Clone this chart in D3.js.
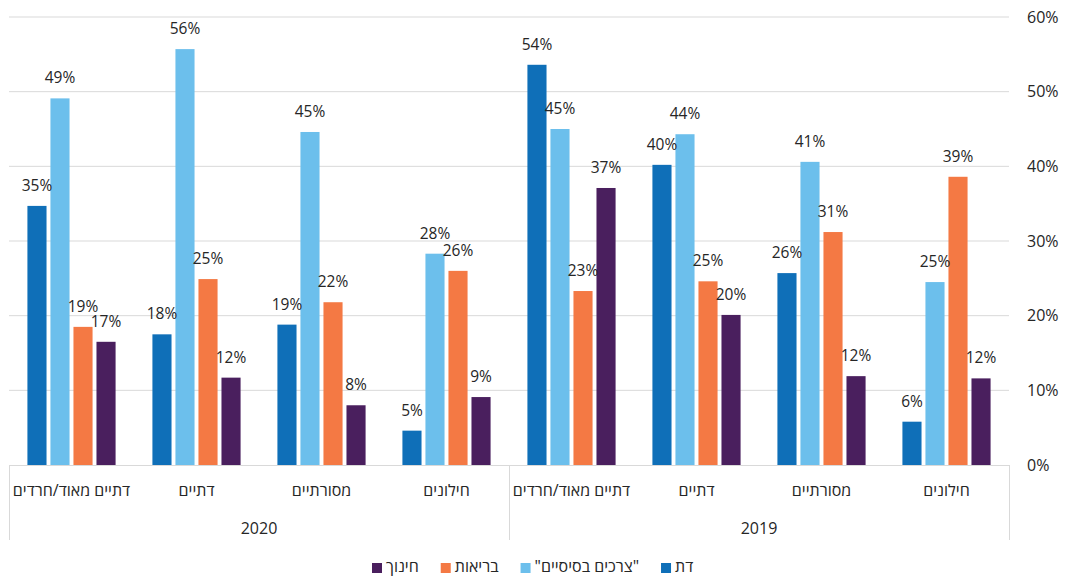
<!DOCTYPE html>
<html>
<head>
<meta charset="utf-8">
<script src="https://cdn.jsdelivr.net/npm/d3@7"></script>
<style>
  body { margin: 0; background: #fff; }
  text { font-family: "Open Sans", "Noto Sans", sans-serif; fill: #262626; }
</style>
</head>
<body>
<div id="chart"></div>
<script>
// data
const years = ["2020", "2019"];
const groups = ["דתיים מאוד/חרדים", "דתיים", "מסורתיים", "חילונים"];
const series = ["דת", "\"צרכים בסיסיים\"", "בריאות", "חינוך"];
const colors = ["#0f6fb8", "#6cbfec", "#f47944", "#4a1f5e"];
const tickValues = [0, 10, 20, 30, 40, 50, 60];

// values per series, in order: 2020 groups then 2019 groups
const religion = [34.7, 17.5, 18.8, 4.6, 53.6, 40.2, 25.7, 5.8];
const basicNeeds = [49.1, 55.7, 44.6, 28.3, 45.0, 44.3, 40.6, 24.5];
const health = [18.5, 24.9, 21.8, 26.0, 23.3, 24.6, 31.2, 38.6];
const education = [16.5, 11.7, 8.0, 9.1, 37.1, 20.1, 11.9, 11.6];
const values = [religion, basicNeeds, health, education];

const W = 1065, H = 581;
const plot = {left: 9, right: 1009, top: 17, bottom: 465};

const keys = [];
years.forEach(y => groups.forEach(g => keys.push(y + "|" + g)));

const x0 = d3.scaleBand().domain(keys).range([plot.left, plot.right]);
const x1 = d3.scaleBand().domain(series).range([0, x0.bandwidth()])
  .paddingInner(0.17).paddingOuter(0.8);
const y = d3.scaleLinear().domain([0, 60]).range([plot.bottom, plot.top]);

const svg = d3.select("#chart").append("svg")
  .attr("width", W).attr("height", H);

// gridlines
svg.append("g").selectAll("line")
  .data(tickValues.filter(t => t > 0))
  .enter().append("line")
  .attr("x1", plot.left).attr("x2", plot.right)
  .attr("y1", d => y(d)).attr("y2", d => y(d))
  .attr("stroke", "#d9d9d9").attr("stroke-width", 1);

// right axis
const yAxis = d3.axisRight(y).tickValues(tickValues)
  .tickFormat(d => d + "%").tickSize(0).tickPadding(18);
const ya = svg.append("g")
  .attr("transform", `translate(${plot.right},0)`)
  .call(yAxis);
ya.select(".domain").remove();
ya.selectAll("text")
  .style("font-family", "\"Open Sans\", sans-serif")
  .style("font-size", "16px").attr("fill", "#262626");

// bars
const data = [];
keys.forEach((k, gi) => {
  series.forEach((s, si) => {
    data.push({key: k, s: s, si: si, v: values[si][gi]});
  });
});

svg.append("g").selectAll("rect")
  .data(data)
  .enter().append("rect")
  .attr("x", d => x0(d.key) + x1(d.s))
  .attr("width", x1.bandwidth())
  .attr("y", d => y(d.v))
  .attr("height", d => y(0) - y(d.v))
  .attr("fill", d => colors[d.si]);

// value labels
svg.append("g").selectAll("text")
  .data(data)
  .enter().append("text")
  .attr("x", d => x0(d.key) + x1(d.s) + x1.bandwidth() / 2)
  .attr("y", d => y(d.v) - 15)
  .attr("text-anchor", "middle")
  .style("font-size", "15.5px")
  .text(d => Math.round(d.v) + "%");

// category axis
svg.append("line")
  .attr("x1", plot.left).attr("x2", plot.right)
  .attr("y1", plot.bottom + 0.5).attr("y2", plot.bottom + 0.5)
  .attr("stroke", "#d9d9d9");

const sepX = [plot.left, x0(keys[4]), plot.right];
svg.append("g").selectAll("line")
  .data(sepX)
  .enter().append("line")
  .attr("x1", d => Math.round(d) + 0.5).attr("x2", d => Math.round(d) + 0.5)
  .attr("y1", plot.bottom).attr("y2", 540)
  .attr("stroke", "#d9d9d9");

svg.append("g").selectAll("text")
  .data(keys)
  .enter().append("text")
  .attr("x", d => x0(d) + x0.bandwidth() / 2)
  .attr("y", 496)
  .attr("text-anchor", "middle")
  .attr("direction", "rtl")
  .style("font-size", "16px")
  .text(d => d.split("|")[1]);

svg.append("g").selectAll("text")
  .data(years)
  .enter().append("text")
  .attr("x", (d, i) => x0(keys[i * 4]) + x0.bandwidth() * 2)
  .attr("y", 534)
  .attr("text-anchor", "middle")
  .style("font-size", "16px")
  .text(d => d);

// legend, left to right in reverse series order
const legend = svg.append("g");
const items = series.map((s, i) => ({s: s, c: colors[i]})).reverse();
let lx = 0;
items.forEach(it => {
  const g = legend.append("g").attr("transform", `translate(${lx},0)`);
  g.append("rect").attr("x", 0).attr("y", -9).attr("width", 10).attr("height", 10)
    .attr("fill", it.c);
  const t = g.append("text").attr("y", 0)
    .style("font-size", "16px")
    .attr("direction", "rtl").attr("text-anchor", "middle")
    .text(it.s);
  const w = t.node().getComputedTextLength();
  t.attr("x", 14 + w / 2);
  lx += 14 + w + 22;
});
const lw = lx - 22;
legend.attr("transform", `translate(${Math.round(533 - lw / 2)},572)`);
</script>
</body>
</html>
